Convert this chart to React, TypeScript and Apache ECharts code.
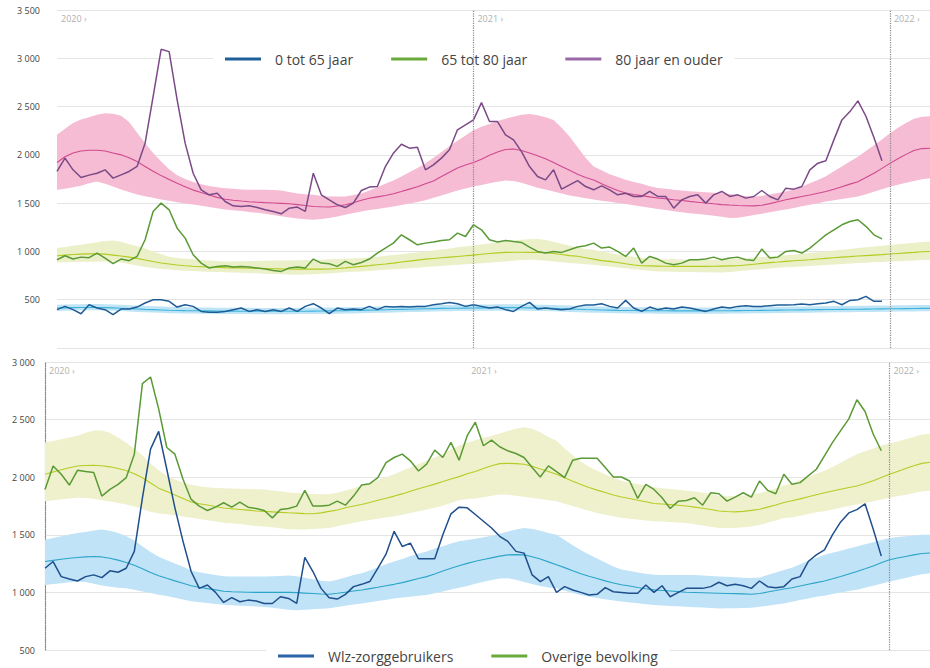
import React, { useEffect, useRef } from "react";
import * as echarts from "echarts";

// ---- categories (ISO-like weeks) ----
const years = [2020, 2021];
const weeks: string[] = [];
years.forEach((y) => {
  for (let w = 1; w <= 52; w++) weeks.push(`${y}-${String(w).padStart(2, "0")}`);
});
for (let w = 1; w <= 6; w++) weeks.push(`2022-${String(w).padStart(2, "0")}`);
const yearTickIdx = [0, 52, 104];

// ---- top panel: observed weekly deaths by age ----
const obsYoung = [397,431,397,355,448,414,397,345,403,403,424,466,500,500,483,424,448,431,379,369,369,379,397,414,379,397,379,397,379,414,379,431,459,414,355,414,397,403,397,431,397,431,424,431,424,431,431,448,459,472,459,431,448,431,414,424,397,379,431,472,403,414,403,397,403,431,445,445,459,431,414,493,414,379,424,397,414,403,424,414,397,379,403,424,414,431,438,431,431,438,445,445,448,455,448,459,466,483,448,493,500,534,483,483];
const obsMid = [914,955,921,941,935,983,931,873,921,904,948,1121,1414,1500,1431,1241,1138,966,879,828,845,852,838,845,838,828,817,803,793,828,838,828,921,879,873,845,897,862,886,921,983,1035,1086,1172,1121,1069,1086,1097,1114,1121,1190,1155,1276,1224,1121,1097,1114,1103,1093,1045,1000,983,1000,990,1017,1045,1059,1086,1035,1045,1000,948,1035,879,948,921,879,862,879,914,914,921,941,914,931,941,914,907,1024,931,941,1000,1010,983,1035,1103,1172,1224,1276,1310,1328,1260,1172,1130];
const obsOld = [1828,1966,1845,1766,1790,1810,1845,1759,1793,1828,1880,2121,2603,3093,3069,2569,2121,1810,1638,1586,1603,1517,1472,1466,1472,1455,1431,1414,1390,1448,1459,1414,1810,1586,1534,1483,1455,1500,1631,1666,1672,1879,2017,2110,2069,2079,1845,1897,1966,2052,2259,2310,2362,2541,2345,2345,2207,2155,2034,1879,1776,1741,1845,1645,1690,1734,1672,1638,1679,1638,1586,1603,1569,1569,1621,1569,1569,1448,1534,1569,1586,1500,1586,1621,1569,1586,1552,1569,1631,1569,1534,1655,1645,1672,1845,1914,1938,2155,2362,2448,2559,2400,2180,1940];

// ---- top panel: expected and band ----
const expYoung = [414,416,418,420,420,420,418,415,412,408,404,400,397,394,391,389,387,386,385,384,383,382,382,381,381,380,380,380,380,380,381,381,382,383,384,385,386,388,390,392,394,396,398,400,402,404,406,408,410,411,412,413,414,415,416,417,418,418,417,416,414,412,410,407,404,401,398,396,394,392,390,389,388,387,386,385,385,384,384,384,384,384,385,385,386,387,388,389,390,391,392,393,394,395,396,397,398,399,400,401,402,403,404,405,406,407,408,409,410,410];
const hiYoung = [448,450,452,454,455,455,453,450,447,443,439,435,432,429,426,424,422,421,420,419,418,417,417,416,416,415,415,415,415,415,416,416,417,418,419,420,421,423,425,427,429,431,433,435,437,439,441,443,445,446,447,448,449,450,451,452,453,453,452,451,449,447,445,442,439,436,433,431,429,427,425,424,423,422,421,420,420,419,419,419,419,419,420,420,421,422,423,424,425,426,427,428,429,430,431,432,433,434,435,436,437,438,439,440,441,442,443,444,445,445];
const loYoung = [384,386,388,390,390,390,388,385,382,378,374,370,367,364,361,359,357,356,355,354,353,352,352,351,351,350,350,350,350,350,351,351,352,353,354,355,356,358,360,362,364,366,368,370,372,374,376,378,380,381,382,383,384,385,386,387,388,388,387,386,384,382,380,377,374,371,368,366,364,362,360,359,358,357,356,355,355,354,354,354,354,354,355,355,356,357,358,359,360,361,362,363,364,365,366,367,368,369,370,371,372,373,374,375,376,377,378,379,380,380];

const expMid = [955,962,968,972,975,976,972,962,952,941,928,912,895,880,870,860,852,846,842,838,835,832,830,828,826,825,823,821,819,818,817,817,817,817,818,824,830,837,845,853,862,870,879,890,900,910,920,927,934,941,948,955,962,970,978,985,990,991,991,990,990,986,978,968,957,950,935,920,905,897,885,872,860,852,850,848,846,845,845,845,845,845,846,848,850,852,860,868,876,884,890,897,903,909,914,921,928,935,941,946,952,957,962,967,973,979,985,990,996,1000];
const hiMid = [1035,1045,1058,1070,1082,1095,1108,1114,1100,1075,1055,1030,1000,970,945,932,925,918,912,906,900,897,897,898,900,902,904,905,906,907,908,910,912,915,918,921,925,928,931,938,946,955,963,972,980,990,1000,1010,1020,1030,1042,1052,1062,1072,1082,1092,1102,1112,1120,1126,1128,1118,1100,1080,1060,1040,1025,1017,1000,985,968,955,945,935,927,921,920,918,917,916,915,914,914,914,918,924,930,936,942,948,954,960,966,975,983,992,1000,1010,1018,1026,1035,1043,1050,1058,1066,1074,1082,1090,1097,1103];
const loMid = [886,888,890,892,894,896,897,897,885,870,855,840,828,818,812,806,801,797,793,790,787,784,782,779,776,773,770,767,763,760,759,760,764,768,772,778,784,789,793,798,804,810,815,821,827,832,838,844,850,856,862,868,873,878,884,890,897,903,910,914,910,903,896,888,880,874,868,862,852,843,834,825,816,808,800,793,791,789,787,786,785,784,783,783,788,795,802,809,816,823,830,835,838,844,849,854,859,864,869,874,879,883,887,891,895,899,903,907,911,914];

const expOld = [1921,1980,2020,2040,2048,2048,2040,2020,2000,1970,1930,1880,1830,1785,1745,1705,1670,1635,1610,1585,1560,1540,1530,1522,1515,1510,1505,1502,1498,1494,1485,1475,1466,1462,1460,1470,1483,1505,1530,1550,1565,1580,1598,1620,1645,1670,1700,1730,1775,1820,1865,1895,1920,1955,1995,2030,2055,2060,2045,2020,1990,1960,1920,1880,1840,1800,1765,1740,1700,1665,1630,1605,1590,1578,1565,1553,1545,1535,1527,1518,1510,1502,1493,1485,1480,1476,1473,1472,1478,1495,1515,1535,1552,1568,1585,1603,1620,1643,1670,1697,1722,1765,1810,1860,1912,1960,2005,2045,2065,2068];
const hiOld = [2207,2270,2330,2365,2390,2415,2430,2425,2405,2340,2230,2120,2020,1930,1850,1790,1750,1720,1695,1678,1665,1655,1648,1640,1638,1638,1638,1637,1630,1615,1600,1592,1586,1575,1569,1568,1570,1585,1600,1630,1665,1700,1735,1775,1820,1865,1910,1970,2030,2090,2145,2200,2255,2290,2320,2350,2375,2395,2415,2424,2410,2390,2362,2280,2190,2080,1970,1880,1840,1800,1770,1742,1720,1700,1675,1658,1648,1638,1630,1622,1618,1612,1608,1603,1595,1585,1575,1570,1575,1590,1605,1620,1640,1670,1705,1740,1778,1830,1880,1930,1980,2040,2100,2160,2225,2280,2330,2375,2395,2400];
const loOld = [1638,1650,1665,1680,1705,1724,1700,1672,1640,1615,1590,1572,1555,1538,1525,1510,1497,1485,1472,1460,1448,1435,1427,1418,1408,1400,1390,1378,1365,1352,1342,1334,1328,1335,1345,1362,1380,1398,1414,1428,1440,1453,1466,1480,1497,1513,1530,1555,1580,1605,1632,1652,1672,1688,1705,1722,1734,1730,1710,1685,1660,1640,1620,1600,1578,1565,1550,1537,1525,1515,1502,1490,1478,1466,1452,1440,1428,1416,1405,1396,1388,1380,1370,1358,1347,1350,1362,1376,1390,1405,1420,1435,1450,1467,1484,1500,1517,1530,1544,1557,1570,1592,1618,1645,1670,1690,1710,1730,1748,1759];

// ---- bottom panel ----
const obsWlz = [1210,1268,1137,1117,1099,1137,1152,1128,1187,1175,1210,1356,1821,2244,2398,2069,1734,1443,1181,1035,1064,1000,913,954,919,933,925,904,904,962,948,904,1303,1181,1035,954,942,983,1050,1070,1094,1210,1332,1530,1399,1428,1292,1292,1292,1501,1682,1740,1734,1676,1618,1559,1487,1443,1356,1341,1152,1094,1137,1000,1050,1021,1000,977,983,1041,1006,1000,992,992,1064,1000,1058,962,1000,1035,1035,1035,1050,1088,1058,1070,1058,1035,1099,1050,1041,1050,1117,1137,1268,1326,1370,1501,1612,1690,1719,1769,1550,1315];
const obsRest = [1894,2098,2025,1932,2060,2049,2040,1836,1894,1938,1996,2200,2812,2870,2593,2258,2200,1982,1807,1749,1711,1740,1778,1740,1784,1740,1728,1711,1647,1720,1728,1749,1886,1749,1749,1757,1792,1757,1836,1932,1944,1996,2127,2171,2200,2142,2054,2113,2235,2171,2302,2148,2360,2477,2273,2322,2264,2229,2206,2171,2084,2002,2098,2049,1996,2148,2165,2165,2165,2084,2002,2002,1967,1816,1938,1894,1822,1728,1792,1798,1822,1757,1865,1856,1792,1827,1865,1827,1967,1886,1856,2025,1938,1953,2011,2069,2186,2302,2404,2506,2672,2570,2375,2230];

const expWlz = [1268,1278,1288,1296,1303,1308,1312,1308,1297,1280,1260,1235,1205,1172,1145,1122,1100,1080,1058,1045,1033,1022,1010,1005,1003,1001,1000,1000,1000,1000,1000,998,994,990,986,984,992,1002,1012,1021,1033,1045,1058,1070,1085,1102,1120,1137,1160,1185,1210,1232,1252,1270,1285,1300,1315,1326,1328,1326,1310,1290,1265,1240,1215,1188,1162,1140,1120,1100,1082,1066,1055,1043,1032,1022,1017,1012,1007,1001,999,997,995,993,991,989,987,984,990,1003,1016,1030,1040,1055,1070,1085,1099,1118,1138,1160,1181,1205,1230,1257,1283,1298,1312,1326,1338,1342];
const hiWlz = [1457,1472,1487,1502,1515,1525,1538,1545,1535,1515,1490,1450,1400,1350,1310,1280,1250,1222,1190,1175,1162,1150,1140,1137,1137,1137,1137,1138,1140,1143,1146,1140,1128,1115,1102,1095,1110,1130,1150,1166,1190,1218,1244,1268,1290,1315,1335,1356,1380,1400,1425,1443,1455,1465,1478,1492,1510,1528,1545,1559,1550,1535,1515,1500,1455,1410,1365,1330,1295,1260,1225,1198,1185,1172,1162,1153,1152,1152,1152,1152,1150,1146,1142,1138,1135,1132,1128,1124,1130,1150,1172,1195,1215,1245,1275,1300,1326,1345,1362,1380,1399,1418,1436,1455,1472,1480,1488,1495,1500,1501];
const loWlz = [1064,1072,1080,1088,1094,1090,1075,1060,1048,1040,1035,1022,1008,995,980,968,953,938,923,915,908,900,892,888,885,881,877,873,866,858,850,846,850,854,858,862,873,884,895,904,915,926,937,948,955,962,970,977,992,1008,1025,1040,1055,1075,1092,1108,1120,1123,1110,1090,1072,1055,1042,1035,1015,995,978,963,952,940,930,920,913,905,898,891,887,883,879,875,871,868,864,861,862,863,864,866,875,885,895,904,918,933,948,962,972,987,1000,1012,1022,1040,1058,1076,1094,1110,1126,1142,1158,1166];

const expRest = [2025,2045,2065,2082,2097,2102,2104,2100,2090,2075,2058,2030,1995,1950,1905,1875,1845,1815,1785,1770,1758,1745,1732,1726,1720,1714,1707,1703,1699,1695,1691,1688,1684,1683,1690,1703,1715,1735,1750,1763,1780,1800,1818,1836,1855,1878,1900,1920,1940,1962,1985,2005,2030,2050,2075,2100,2118,2120,2118,2113,2095,2072,2050,2025,1995,1965,1937,1910,1888,1867,1846,1828,1815,1800,1787,1772,1767,1762,1757,1750,1740,1730,1720,1707,1702,1699,1703,1712,1722,1740,1758,1780,1795,1812,1830,1848,1865,1880,1895,1910,1923,1945,1970,1998,2025,2050,2075,2100,2120,2130];
const hiRest = [2302,2315,2330,2345,2360,2385,2405,2405,2385,2345,2300,2250,2190,2120,2060,2015,1980,1955,1935,1922,1912,1907,1904,1902,1900,1897,1895,1893,1885,1877,1868,1862,1858,1855,1852,1851,1865,1885,1905,1923,1948,1975,2000,2025,2055,2085,2115,2140,2170,2200,2240,2275,2300,2320,2340,2360,2380,2400,2420,2433,2420,2390,2350,2317,2250,2190,2135,2090,2055,2025,1995,1970,1955,1940,1925,1912,1905,1898,1890,1882,1875,1865,1855,1840,1835,1838,1842,1850,1860,1880,1905,1930,1945,1975,2000,2030,2055,2090,2125,2165,2200,2225,2250,2275,2293,2310,2330,2350,2370,2378];
const loRest = [1792,1800,1808,1815,1821,1820,1812,1800,1788,1775,1763,1745,1722,1700,1685,1678,1668,1658,1648,1638,1626,1615,1605,1600,1593,1585,1576,1572,1565,1557,1548,1545,1546,1550,1555,1560,1575,1590,1605,1618,1628,1640,1651,1661,1675,1690,1705,1720,1735,1752,1775,1800,1810,1815,1825,1840,1850,1848,1840,1830,1820,1810,1800,1792,1770,1750,1728,1708,1690,1675,1660,1648,1640,1632,1625,1618,1615,1611,1607,1603,1592,1580,1570,1560,1558,1560,1565,1572,1585,1605,1625,1645,1650,1665,1680,1695,1705,1720,1735,1750,1763,1777,1792,1807,1821,1835,1848,1862,1876,1882];

const topYTicks = [0, 3500, 500];
const bottomYTicks = [500, 3000, 500];

const FONT = "'Open Sans', 'Noto Sans', sans-serif";

const fmtNum = (v: number) =>
  String(v).replace(/\B(?=(\d{3})+(?!\d))/g, " ");

function bandSeries(
  id: string,
  lo: number[],
  hi: number[],
  color: string,
  axisIdx: number
) {
  const n = Math.min(lo.length, hi.length);
  const diff = hi.slice(0, n).map((h, i) => h - lo[i]);
  return [
    {
      name: id + "-lo",
      type: "line",
      xAxisIndex: axisIdx,
      yAxisIndex: axisIdx,
      stack: id,
      data: lo.slice(0, n),
      symbol: "none",
      lineStyle: { width: 0, opacity: 0 },
      silent: true,
      z: 1,
    },
    {
      name: id + "-band",
      type: "line",
      xAxisIndex: axisIdx,
      yAxisIndex: axisIdx,
      stack: id,
      data: diff,
      symbol: "none",
      lineStyle: { width: 0, opacity: 0 },
      areaStyle: { color, opacity: 1 },
      silent: true,
      z: 1,
    },
  ];
}

function lineSeries(
  name: string,
  data: number[],
  color: string,
  width: number,
  axisIdx: number,
  z: number
) {
  return {
    name,
    type: "line",
    xAxisIndex: axisIdx,
    yAxisIndex: axisIdx,
    data,
    symbol: "none",
    lineStyle: { color, width },
    itemStyle: { color },
    silent: true,
    z,
  };
}

function xAxisFor(gridIndex: number) {
  return {
    type: "category",
    gridIndex,
    data: weeks,
    boundaryGap: false,
    position: "top",
    axisLine: { show: false },
    axisTick: { show: false },
    splitLine: { show: false },
    axisLabel: {
      inside: true,
      interval: (i: number) => yearTickIdx.includes(i),
      formatter: (v: string) => v.slice(0, 4) + " ›",
      align: "left",
      color: "#b0b0b0",
      fontSize: 9,
      fontFamily: FONT,
      margin: 4,
      padding: [0, 0, 0, 4],
    },
  };
}

export default function App() {
  const ref = useRef<HTMLDivElement>(null);

  useEffect(() => {
    document.body.style.margin = "0";
    if (!ref.current) return;
    const chart = echarts.init(ref.current, undefined, { renderer: "svg" });

    const vLine = (idx: number[]) => ({
      silent: true,
      symbol: ["none", "none"],
      label: { show: false },
      lineStyle: { type: "dotted", color: "#888", width: 1.2 },
      data: idx.map((i) => ({ xAxis: weeks[i] })),
    });

    const topSeries: any[] = [
      ...bandSeries("bOld", loOld, hiOld, "#f5bcd4", 0),
      ...bandSeries("bMid", loMid, hiMid, "#ebf0c9", 0),
      ...bandSeries("bYoung", loYoung, hiYoung, "#bfe4f6", 0),
      lineSeries("eOld", expOld, "#d0498c", 1.1, 0, 2),
      lineSeries("eMid", expMid, "#b2cb1f", 1.1, 0, 2),
      lineSeries("eYoung", expYoung, "#3db3dc", 1.1, 0, 2),
      lineSeries("80 jaar en ouder", obsOld, "#7b4a86", 1.5, 0, 3),
      lineSeries("65 tot 80 jaar", obsMid, "#5a9a35", 1.5, 0, 3),
      lineSeries("0 tot 65 jaar", obsYoung, "#1d5c96", 1.5, 0, 3),
    ];
    topSeries[0].markLine = vLine([52, 104]);

    const bottomSeries: any[] = [
      ...bandSeries("bRest", loRest, hiRest, "#eef1cc", 1),
      ...bandSeries("bWlz", loWlz, hiWlz, "#c0e3f7", 1),
      lineSeries("eRest", expRest, "#b6cc24", 1.1, 1, 2),
      lineSeries("eWlz", expWlz, "#2ba5c8", 1.1, 1, 2),
      lineSeries("Overige bevolking", obsRest, "#5b9a34", 1.5, 1, 3),
      lineSeries("Wlz-zorggebruikers", obsWlz, "#1f4f8c", 1.5, 1, 3),
    ];
    bottomSeries[0].markLine = vLine([104]);

    const legendCommon = {
      icon: "rect",
      itemWidth: 36,
      itemHeight: 3,
      itemGap: 38,
      backgroundColor: "#ffffff",
      selectedMode: false,
      textStyle: {
        fontSize: 14,
        color: "#444",
        fontFamily: FONT,
        padding: [0, 0, 0, 9],
      },
    };

    chart.setOption({
      animation: false,
      backgroundColor: "#ffffff",
      textStyle: { fontFamily: FONT },
      grid: [
        { left: 57, top: 10, width: 873, height: 338 },
        { left: 45, top: 362, width: 886, height: 288 },
      ],
      xAxis: [xAxisFor(0), xAxisFor(1)],
      yAxis: [
        {
          type: "value",
          gridIndex: 0,
          min: topYTicks[0],
          max: topYTicks[1],
          interval: topYTicks[2],
          axisLine: { show: false },
          axisTick: { show: false },
          splitLine: { lineStyle: { color: "#e4e4e4", width: 1 } },
          axisLabel: {
            formatter: (v: number) => (v === 0 ? "" : fmtNum(v)),
            color: "#444",
            fontSize: 9,
            margin: 17,
            fontFamily: FONT,
          },
        },
        {
          type: "value",
          gridIndex: 1,
          min: bottomYTicks[0],
          max: bottomYTicks[1],
          interval: bottomYTicks[2],
          axisLine: {
            show: true,
            lineStyle: { type: "dotted", color: "#888", width: 1.2 },
          },
          axisTick: { show: false },
          splitLine: { lineStyle: { color: "#e4e4e4", width: 1 } },
          axisLabel: {
            formatter: (v: number) => fmtNum(v),
            color: "#444",
            fontSize: 9,
            margin: 10,
            fontFamily: FONT,
          },
        },
      ],
      legend: [
        {
          ...legendCommon,
          left: 213,
          top: 44,
          padding: [8, 12, 8, 12],
          data: [
            { name: "0 tot 65 jaar", itemStyle: { color: "#1f5f9a" } },
            { name: "65 tot 80 jaar", itemStyle: { color: "#6aaa3a" } },
            { name: "80 jaar en ouder", itemStyle: { color: "#9a6aa8" } },
          ],
        },
        {
          ...legendCommon,
          left: 266,
          top: 641,
          padding: [8, 12, 8, 12],
          data: [
            { name: "Wlz-zorggebruikers", itemStyle: { color: "#2a64a8" } },
            { name: "Overige bevolking", itemStyle: { color: "#6aaa3a" } },
          ],
        },
      ],
      series: [...topSeries, ...bottomSeries],
    });

    return () => chart.dispose();
  }, []);

  return <div ref={ref} style={{ width: 930, height: 668 }} />;
}
